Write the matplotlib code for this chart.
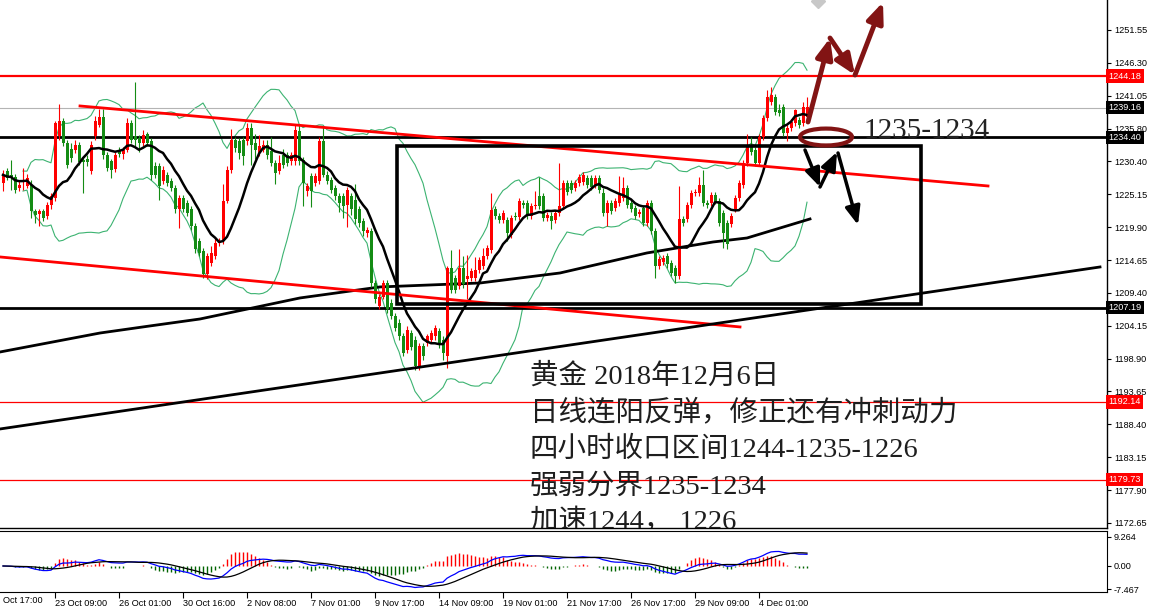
import numpy as np
import pandas as pd
import matplotlib
matplotlib.use("Agg")
import matplotlib.pyplot as plt
from matplotlib.patches import Rectangle, Ellipse
import matplotlib.transforms as mtrans

# ---------------- data (4H gold candles) ----------------
opens = [
    1227.1, 1229.0, 1228.4, 1228.1, 1226.3, 1227.3, 1226.6, 1226.8, 1222.7, 1222.1,
    1222.7, 1221.8, 1223.6, 1224.7, 1234.6, 1237.0, 1233.5, 1232.5, 1232.4, 1233.2,
    1230.7, 1230.9, 1229.0, 1234.6, 1236.4, 1237.7, 1231.6, 1230.6, 1229.3, 1232.3,
    1231.7, 1232.4, 1236.7, 1234.6, 1234.3, 1233.5, 1234.9, 1233.8, 1229.9, 1229.8,
    1227.4, 1228.4, 1227.4, 1226.3, 1222.9, 1224.7, 1223.9, 1222.9, 1220.2, 1217.8,
    1216.2, 1212.5, 1214.3, 1215.4, 1217.5, 1217.8, 1224.2, 1229.2, 1234.0, 1233.8,
    1234.0, 1233.8, 1235.9, 1233.5, 1231.9, 1232.4, 1233.2, 1232.2, 1230.3, 1229.0,
    1231.6, 1231.6, 1230.6, 1230.6, 1235.4, 1230.8, 1225.8, 1228.2, 1227.1, 1227.4,
    1233.8, 1228.4, 1227.6, 1226.3, 1225.0, 1225.0, 1223.6, 1225.0, 1224.4, 1222.9,
    1221.0, 1219.1, 1219.4, 1211.1, 1207.5, 1208.9, 1211.1, 1208.0, 1205.8, 1204.8,
    1202.6, 1200.5, 1203.1, 1202.1, 1197.8, 1201.0, 1201.5, 1202.1, 1202.6, 1203.4,
    1202.1, 1199.4, 1213.5, 1211.9, 1210.6, 1213.5, 1211.7, 1211.9, 1211.9, 1213.2,
    1213.8, 1215.4, 1216.4, 1222.9, 1221.8, 1221.2, 1221.2, 1218.8, 1221.9, 1221.7,
    1223.9, 1223.9, 1221.8, 1223.4, 1225.0, 1225.0, 1221.5, 1221.9, 1221.2, 1222.3,
    1223.4, 1227.1, 1227.1, 1226.3, 1227.1, 1227.3, 1227.9, 1227.9, 1226.8, 1227.9,
    1225.5, 1222.3, 1223.9, 1223.1, 1223.9, 1224.7, 1226.3, 1223.9, 1223.1, 1222.1,
    1223.1, 1220.7, 1223.9, 1219.4, 1213.8, 1214.5, 1215.4, 1214.3, 1213.5, 1212.2,
    1221.3, 1221.3, 1223.6, 1225.5, 1225.5, 1226.8, 1223.9, 1223.9, 1225.2, 1224.2,
    1222.3, 1220.7, 1220.5, 1222.9, 1224.7, 1226.8, 1230.3, 1233.2, 1232.4, 1230.3,
    1234.5, 1237.5, 1240.0, 1240.9, 1238.8, 1239.3, 1235.1, 1235.9, 1236.7, 1237.2,
    1236.7, 1237.6]
highs = [
    1229.2, 1229.5, 1230.8, 1228.6, 1227.4, 1229.5, 1228.5, 1227.6, 1223.0, 1222.9,
    1223.0, 1224.0, 1225.5, 1237.0, 1239.8, 1237.5, 1234.0, 1233.5, 1234.0, 1233.7,
    1231.3, 1231.5, 1233.8, 1237.8, 1239.0, 1239.0, 1232.0, 1231.0, 1232.0, 1232.8,
    1232.8, 1237.5, 1237.2, 1243.2, 1234.8, 1235.5, 1235.3, 1234.3, 1230.5, 1230.3,
    1229.8, 1228.8, 1227.9, 1226.8, 1225.2, 1225.2, 1224.4, 1223.4, 1220.7, 1218.3,
    1216.7, 1216.0, 1217.0, 1218.5, 1218.3, 1226.9, 1229.8, 1235.7, 1234.5, 1234.3,
    1234.5, 1236.7, 1236.7, 1235.0, 1234.8, 1234.0, 1234.0, 1234.5, 1230.8, 1231.5,
    1232.5, 1232.0, 1232.0, 1236.5, 1236.5, 1231.3, 1227.1, 1228.7, 1228.7, 1234.5,
    1236.0, 1229.0, 1228.0, 1226.8, 1225.5, 1225.5, 1226.5, 1225.5, 1227.0, 1223.4,
    1221.5, 1220.0, 1219.9, 1211.6, 1209.4, 1211.6, 1211.6, 1208.5, 1206.3, 1205.3,
    1203.1, 1204.2, 1203.6, 1202.6, 1201.5, 1201.5, 1203.0, 1203.6, 1204.4, 1203.9,
    1202.6, 1213.9, 1216.4, 1212.4, 1216.5, 1215.5, 1215.6, 1213.5, 1215.3, 1215.3,
    1216.7, 1217.2, 1225.5, 1223.4, 1222.3, 1222.8, 1221.7, 1222.0, 1222.4, 1224.7,
    1224.4, 1224.4, 1223.9, 1225.9, 1228.1, 1225.5, 1222.5, 1222.4, 1222.8, 1230.3,
    1227.6, 1227.6, 1227.6, 1227.6, 1228.6, 1228.9, 1228.4, 1228.4, 1228.4, 1228.4,
    1226.3, 1224.4, 1224.4, 1224.7, 1228.2, 1228.0, 1226.8, 1224.4, 1223.6, 1223.0,
    1223.6, 1224.4, 1224.4, 1219.9, 1215.4, 1215.6, 1215.9, 1214.8, 1214.0, 1226.6,
    1221.8, 1224.1, 1226.0, 1226.2, 1228.0, 1229.2, 1224.4, 1225.7, 1225.7, 1224.7,
    1222.8, 1221.2, 1222.3, 1225.2, 1227.6, 1230.8, 1235.0, 1234.5, 1232.9, 1235.0,
    1238.0, 1242.0, 1242.5, 1241.4, 1239.8, 1239.8, 1236.4, 1237.4, 1239.0, 1237.7,
    1240.0, 1240.9]
lows = [
    1225.8, 1227.6, 1226.0, 1225.5, 1225.8, 1226.0, 1226.3, 1221.5, 1220.7, 1220.2,
    1221.0, 1221.3, 1223.0, 1224.2, 1234.0, 1233.0, 1229.5, 1230.5, 1231.9, 1230.0,
    1225.5, 1229.8, 1228.5, 1234.0, 1236.0, 1231.0, 1229.0, 1227.9, 1228.8, 1231.2,
    1231.0, 1232.0, 1233.5, 1233.0, 1232.0, 1233.0, 1233.0, 1227.6, 1227.9, 1224.4,
    1226.9, 1226.6, 1225.8, 1222.3, 1219.9, 1222.4, 1221.8, 1219.6, 1216.0, 1215.4,
    1212.0, 1211.8, 1213.8, 1215.0, 1217.0, 1217.3, 1223.9, 1228.7, 1232.0, 1231.0,
    1230.0, 1233.2, 1230.0, 1231.0, 1231.4, 1232.0, 1231.0, 1229.8, 1227.0, 1228.5,
    1229.5, 1229.8, 1230.0, 1230.0, 1230.0, 1223.4, 1225.0, 1223.2, 1226.6, 1226.9,
    1228.0, 1226.9, 1225.5, 1224.4, 1222.5, 1221.5, 1220.0, 1222.0, 1220.5, 1220.0,
    1218.6, 1218.5, 1210.5, 1207.9, 1207.0, 1208.5, 1206.4, 1205.3, 1203.5, 1202.0,
    1199.5, 1200.0, 1200.4, 1197.3, 1197.3, 1198.9, 1201.0, 1201.6, 1202.1, 1200.8,
    1198.9, 1197.6, 1209.5, 1209.5, 1210.1, 1210.4, 1208.5, 1211.4, 1211.4, 1212.7,
    1213.3, 1214.9, 1215.9, 1221.3, 1220.7, 1220.7, 1217.8, 1218.3, 1221.2, 1221.2,
    1223.1, 1221.3, 1221.3, 1222.9, 1222.9, 1221.0, 1221.0, 1219.8, 1220.7, 1221.8,
    1222.9, 1225.2, 1225.5, 1225.8, 1226.6, 1226.8, 1226.3, 1226.0, 1226.3, 1225.5,
    1221.8, 1220.2, 1222.1, 1222.6, 1223.4, 1224.2, 1223.1, 1222.4, 1221.3, 1221.6,
    1220.2, 1220.2, 1218.9, 1211.9, 1213.3, 1214.0, 1213.6, 1212.2, 1211.2, 1211.7,
    1220.2, 1220.8, 1223.1, 1225.0, 1225.0, 1223.4, 1223.1, 1223.4, 1223.7, 1220.2,
    1216.8, 1216.5, 1220.0, 1222.4, 1224.2, 1226.3, 1229.8, 1231.6, 1229.8, 1229.8,
    1234.0, 1237.0, 1239.5, 1238.0, 1237.8, 1234.6, 1233.8, 1235.4, 1236.2, 1235.9,
    1236.2, 1237.1]
closes = [
    1228.4, 1227.9, 1227.9, 1226.0, 1226.8, 1227.5, 1227.9, 1222.6, 1222.0, 1222.6,
    1221.5, 1223.6, 1225.0, 1236.7, 1237.0, 1233.5, 1230.0, 1231.1, 1233.2, 1230.4,
    1230.4, 1230.4, 1233.2, 1237.0, 1237.7, 1231.6, 1229.5, 1229.2, 1231.6, 1231.7,
    1232.3, 1236.7, 1234.0, 1234.0, 1233.5, 1234.8, 1233.5, 1228.4, 1228.4, 1226.6,
    1229.2, 1227.1, 1226.3, 1222.9, 1224.7, 1222.9, 1222.3, 1220.2, 1216.5, 1215.9,
    1212.5, 1215.4, 1215.9, 1217.5, 1217.8, 1224.2, 1229.2, 1234.0, 1232.7, 1231.9,
    1231.4, 1235.9, 1233.2, 1232.4, 1233.0, 1233.2, 1231.6, 1230.3, 1228.7, 1230.3,
    1230.0, 1230.3, 1231.6, 1235.6, 1230.6, 1227.1, 1226.6, 1225.8, 1228.2, 1233.8,
    1228.4, 1227.4, 1226.0, 1225.0, 1223.9, 1223.4, 1226.0, 1222.9, 1221.3, 1220.7,
    1219.4, 1219.6, 1211.1, 1208.5, 1208.9, 1211.1, 1206.9, 1205.8, 1204.0, 1202.6,
    1200.0, 1203.7, 1200.9, 1197.8, 1201.0, 1199.4, 1202.6, 1203.1, 1203.9, 1201.3,
    1200.0, 1213.5, 1210.0, 1210.0, 1213.5, 1210.9, 1212.2, 1213.0, 1213.2, 1214.8,
    1215.4, 1216.7, 1222.8, 1221.8, 1221.2, 1222.3, 1219.1, 1221.5, 1221.7, 1224.2,
    1223.6, 1221.8, 1223.4, 1223.6, 1223.4, 1221.5, 1222.0, 1221.1, 1222.3, 1223.4,
    1227.1, 1225.7, 1226.0, 1227.1, 1228.1, 1228.4, 1226.8, 1226.5, 1227.9, 1226.0,
    1222.3, 1223.9, 1222.6, 1224.2, 1225.2, 1226.3, 1223.6, 1222.9, 1221.8, 1222.5,
    1220.7, 1223.9, 1219.4, 1213.8, 1214.9, 1215.1, 1214.1, 1212.7, 1212.2, 1221.3,
    1220.7, 1223.6, 1225.5, 1225.7, 1226.8, 1223.9, 1223.6, 1225.2, 1224.2, 1220.7,
    1219.1, 1217.3, 1221.8, 1224.7, 1227.1, 1230.3, 1232.9, 1232.1, 1230.3, 1234.5,
    1237.5, 1240.9, 1241.2, 1238.5, 1238.3, 1235.1, 1235.9, 1236.9, 1238.8, 1236.4,
    1239.3, 1239.2]

# long moving average (read at sparse bars)
ma_long_bar = [-0.75, 24.25, 36.75, 49.25, 74.25, 94.25, 119.25, 139.25, 161, 177.5, 186, 201.75]
ma_long_val = [1200.11, 1203.14, 1204.27, 1205.38, 1208.74, 1210.50, 1211.13, 1212.73,
               1215.93, 1217.68, 1218.32, 1221.36]

# price levels (value, colour, label box)
level_vals = [1244.18, 1239.16, 1234.40, 1207.19, 1192.14, 1179.73]
level_cols = ["#FF0000", "#B4B4B4", "#000000", "#000000", "#FF0000", "#FF0000"]
level_lw = [1.6, 0.8, 2.0, 2.0, 0.9, 0.9]
level_box = ["#FF0000", "#000000", "#000000", "#000000", "#FF0000", "#FF0000"]

# right axis ticks
ytick_vals = [1251.55, 1246.30, 1241.05, 1235.80, 1230.55, 1225.30, 1220.05, 1214.80,
              1209.55, 1204.30, 1199.05, 1193.80, 1188.55, 1183.30, 1178.05, 1172.80]
ytick_labels = ["1251.55", "1246.30", "1241.05", "1235.80", "1230.40", "1225.15", "1219.90",
                "1214.65", "1209.40", "1204.15", "1198.90", "1193.65", "1188.40", "1183.15",
                "1177.90", "1172.65"]

# time axis
xtick_bars = [13, 29, 45, 61, 77, 93, 109, 125, 141, 157, 173, 189]
xtick_labels = ["23 Oct 09:00", "26 Oct 01:00", "30 Oct 16:00", "2 Nov 08:00", "7 Nov 01:00",
                "9 Nov 17:00", "14 Nov 09:00", "19 Nov 01:00", "21 Nov 17:00",
                "26 Nov 17:00", "29 Nov 09:00", "4 Dec 01:00"]
first_label = "Oct 17:00"

# drawn objects (bar index, price)
red_upper_line = [(19.25, 1239.41), (246.25, 1226.63)]
red_lower_line = [(-0.75, 1215.29), (184.25, 1204.11)]
black_trend = [(-0.75, 1187.81), (274.25, 1213.69)]
box_corners = [(98.5, 1207.78), (229.5, 1233.02)]
up_path = [(201.25, 1236.85), (206.75, 1250.27), (213.0, 1244.36), (220.0, 1256.0)]
down_path = [(200.5, 1232.38), (204.25, 1226.47), (208.5, 1232.06)]
down_last = [(208.75, 1231.9), (213.75, 1220.4)]
zone_ellipse = (205.75, 1234.45)

note_lines = ["黄金 2018年12月6日", "日线连阳反弹，修正还有冲刺动力", "四小时收口区间1244-1235-1226",
              "强弱分界1235-1234", "加速1244， 1226"]
zone_label = "1235-1234"

# ---------------- figure ----------------
W, H = 1150, 607
fig = plt.figure(figsize=(W / 100, H / 100), dpi=100)
fig.patch.set_facecolor("white")
ax = fig.add_axes([0, (H - 528) / H, 1107 / W, 528 / H])
mx = fig.add_axes([0, (H - 592) / H, 1107 / W, 61 / H])

o = np.array(opens); h = np.array(highs); l = np.array(lows); c = np.array(closes)
n = len(c)
x = np.arange(n)
up = c >= o
cols = np.where(up, "#FF0000", "#148C14")

s = pd.Series(c)
mid = s.rolling(20, min_periods=6).mean()
sd = s.rolling(20, min_periods=6).std(ddof=0)
ma10 = s.rolling(10, min_periods=1).mean()

ax.plot(x, mid + 2 * sd, color="#3CB371", lw=0.8, zorder=2)
ax.plot(x, mid - 2 * sd, color="#3CB371", lw=0.8, zorder=2)
ax.plot(ma_long_bar, ma_long_val, color="black", lw=2, zorder=3)

ax.vlines(x, l, h, colors=cols, lw=0.8, zorder=4)
body_lo = np.minimum(o, c)
body_h = np.maximum(np.abs(c - o), 0.15)
ax.bar(x, body_h, bottom=body_lo, width=0.75, color=cols, linewidth=0, zorder=5)
ax.plot(x, ma10, color="black", lw=1.8, zorder=6)

for v, col, lw in zip(level_vals, level_cols, level_lw):
    ax.axhline(v, color=col, lw=lw, zorder=3)

for line, col in [(red_upper_line, "#FF0000"), (red_lower_line, "#FF0000"), (black_trend, "black")]:
    ax.plot([p[0] for p in line], [p[1] for p in line], color=col, lw=2, zorder=7)

(bx0, by0), (bx1, by1) = box_corners
ax.add_patch(Rectangle((bx0, by0), bx1 - bx0, by1 - by0, fill=False, ec="black", lw=2.6, zorder=7))

dark_red = "#821414"
for a, b in zip(up_path[:-1], up_path[1:]):
    ax.annotate("", xy=b, xytext=a, zorder=9,
                arrowprops=dict(arrowstyle="-|>,head_width=0.5,head_length=1.2", color=dark_red,
                                lw=3.5, shrinkA=0, shrinkB=0))
for a, b in list(zip(down_path[:-1], down_path[1:])) + [(down_last[0], down_last[1])]:
    ax.annotate("", xy=b, xytext=a, zorder=9,
                arrowprops=dict(arrowstyle="-|>,head_width=0.45,head_length=1.1", color="black",
                                lw=2.5, shrinkA=0, shrinkB=0))
ax.add_patch(Ellipse(zone_ellipse, 13, 2.7, fill=False, ec=dark_red, lw=3, zorder=9))
ax.plot([203.75], [1256.2], marker="D", color="#C8C8C8", ms=7, zorder=9)

ax.text(215, 1235.42, zone_label, family=["Liberation Serif", "DejaVu Serif"], fontsize=21,
        color="#222222", va="center", ha="left", zorder=10)

cjk = ["Liberation Serif", "Noto Sans CJK SC", "DejaVu Sans"]
note_y = [1196.12, 1190.37, 1184.46, 1178.55, 1172.9]
for txt, yy in zip(note_lines, note_y):
    ax.text(131.75, yy, txt, family=cjk, fontsize=20.5, color="#1E1E1E", va="center",
            ha="left", zorder=10, clip_on=True)

ax.set_xlim(-0.75, 276)
ax.set_ylim(1171.99, 1256.34)
for sp in ["left", "top"]:
    ax.spines[sp].set_visible(False)
ax.spines["right"].set_linewidth(1)
ax.spines["bottom"].set_linewidth(1)
ax.set_xticks([])
ax.yaxis.tick_right()
ax.set_yticks(ytick_vals)
ax.set_yticklabels(ytick_labels)
ax.tick_params(axis="y", direction="out", length=3, width=0.8, pad=2, labelsize=6.6)
for t in ax.get_yticklabels():
    t.set_family("Liberation Sans")

trans = mtrans.blended_transform_factory(ax.transAxes, ax.transData)
for v, bc in zip(level_vals, level_box):
    ax.text(1.0015, v, f"{v:.2f}", transform=trans, fontsize=6.6, family="Liberation Sans",
            color="white", va="center", ha="left", zorder=20, clip_on=False,
            bbox=dict(boxstyle="square,pad=0.25", fc=bc, ec="none"))

# ---------------- MACD panel ----------------
ema12 = s.ewm(span=12, adjust=False).mean()
ema26 = s.ewm(span=26, adjust=False).mean()
macd = ema12 - ema26
signal = macd.rolling(9, min_periods=1).mean()
hist = (macd - signal).values
hcols = np.where(hist >= 0, "#FF0000", "#006400")
mx.vlines(x, 0, hist * 1.6, colors=hcols, lw=1.0)
mx.plot(x, macd, color="#0000FF", lw=0.9)
mx.plot(x, signal, color="black", lw=0.9)
mx.set_xlim(-0.75, 276)
mx.set_ylim(-8.31, 11.18)
mx.spines["left"].set_visible(False)
mx.yaxis.tick_right()
mx.set_yticks([9.264, 0.0, -7.467])
mx.set_yticklabels(["9.264", "0.00", "-7.467"])
mx.tick_params(axis="y", direction="out", length=3, width=0.8, pad=2, labelsize=6.6)
mx.set_xticks(xtick_bars)
mx.set_xticklabels(xtick_labels, ha="left")
mx.tick_params(axis="x", direction="out", length=4, width=0.8, pad=1, labelsize=6.6)
for t in mx.get_xticklabels() + mx.get_yticklabels():
    t.set_family("Liberation Sans")
fig.text(3 / W, 1 - 596 / H, first_label, fontsize=6.6, family="Liberation Sans",
         ha="left", va="top")

fig.savefig("out.png", dpi=100)
